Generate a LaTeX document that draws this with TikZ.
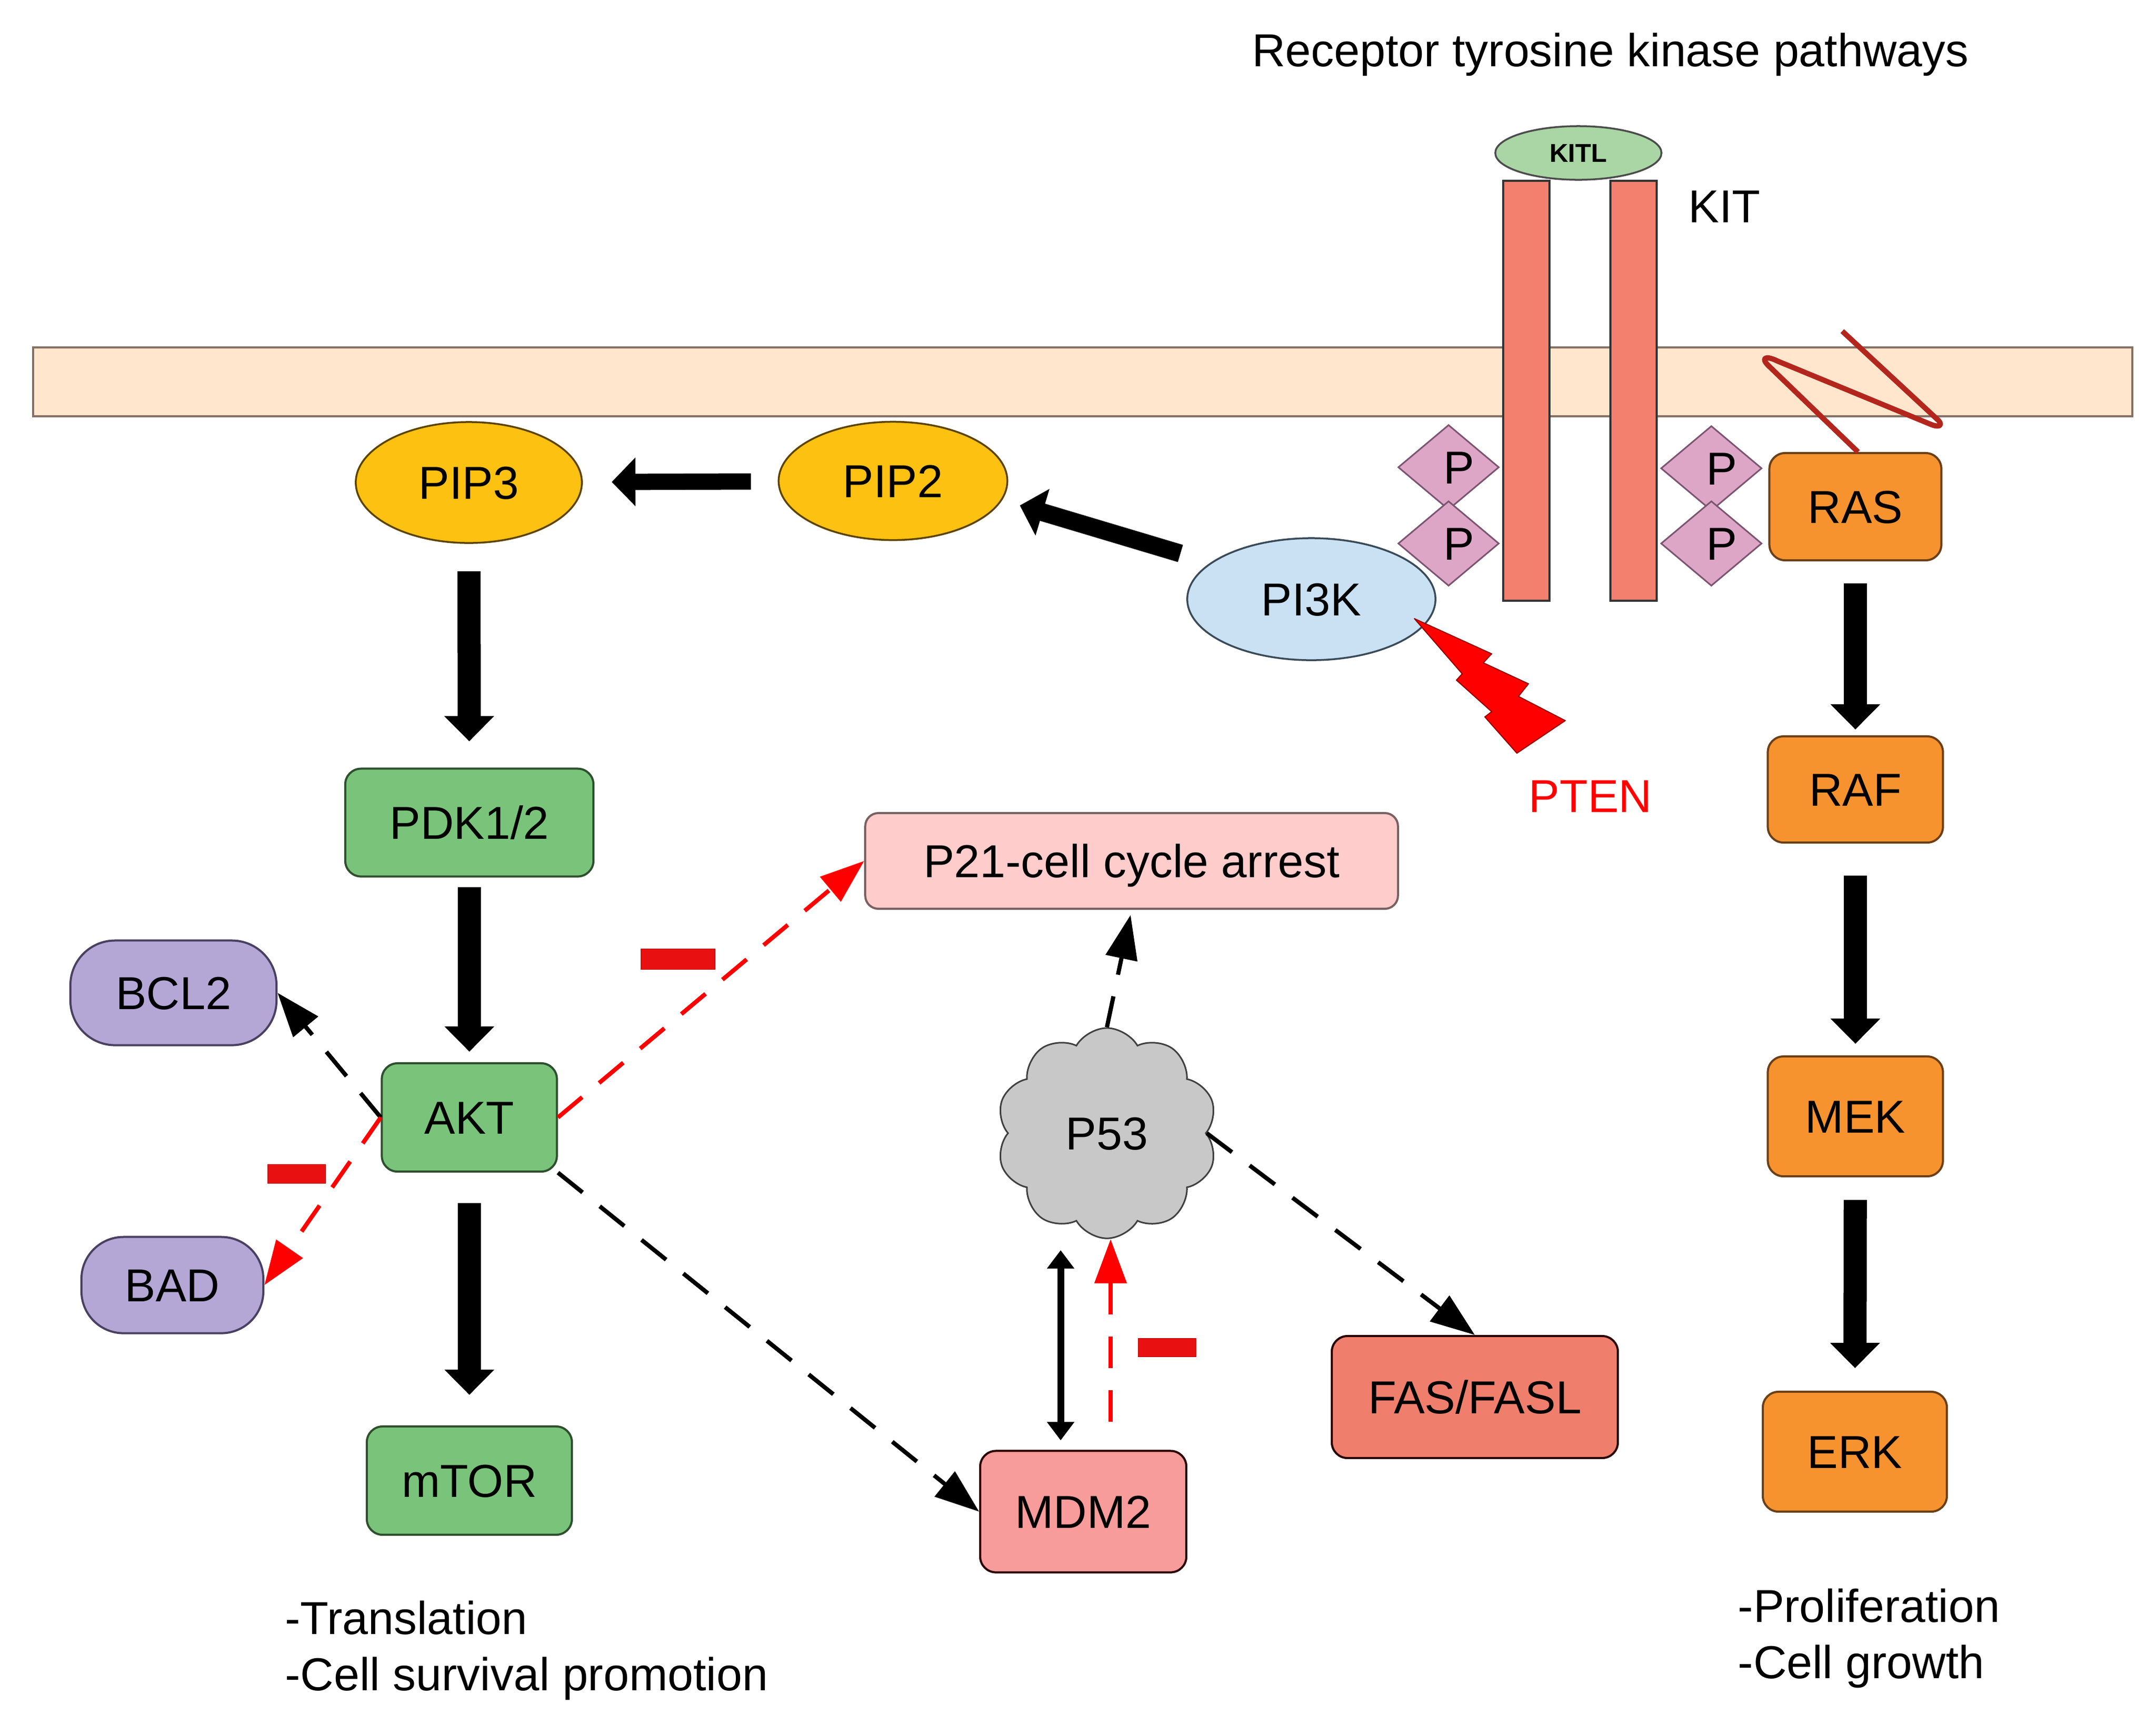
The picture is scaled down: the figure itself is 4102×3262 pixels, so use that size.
\documentclass[tikz,border=0pt]{standalone}
\usepackage{fontspec}
\setmainfont{Liberation Sans}
\usetikzlibrary{shapes.geometric,shapes.symbols,arrows.meta,calc}
\definecolor{memfill}{HTML}{FFE6CC}
\definecolor{memdraw}{HTML}{857065}
\definecolor{kitfill}{HTML}{F3806E}
\definecolor{kitlfill}{HTML}{A9D6A4}
\definecolor{pfill}{HTML}{DDA6C7}
\definecolor{pdraw}{HTML}{7B5570}
\definecolor{rasfill}{HTML}{F7932F}
\definecolor{rasdraw}{HTML}{6A4018}
\definecolor{pipfill}{HTML}{FDC112}
\definecolor{pipdraw}{HTML}{5C4400}
\definecolor{pikfill}{HTML}{C9E1F3}
\definecolor{pikdraw}{HTML}{3A4A58}
\definecolor{grnfill}{HTML}{79C47A}
\definecolor{grndraw}{HTML}{2F4F2F}
\definecolor{purfill}{HTML}{B4A7D6}
\definecolor{purdraw}{HTML}{4A4060}
\definecolor{ptwofill}{HTML}{FFCCCC}
\definecolor{ptwodraw}{HTML}{7A6060}
\definecolor{pfivefill}{HTML}{C8C8C8}
\definecolor{mdmfill}{HTML}{F89B9B}
\definecolor{fasfill}{HTML}{EF7F6C}
\definecolor{redbar}{HTML}{E81010}
\definecolor{curl}{HTML}{B3261E}
\tikzset{
  lbl/.style={font=\fontsize{25}{30}\selectfont, text height=17.9pt, text depth=0pt, inner sep=0pt},
  txt/.style={font=\fontsize{25}{30}\selectfont, inner sep=0pt},
  boxnode/.style={lbl, rectangle, rounded corners=0.3cm, line width=0.04cm},
  ellnode/.style={lbl, ellipse, line width=0.035cm},
  pnode/.style={lbl, diamond, fill=pfill, draw=pdraw, line width=0.03cm, minimum width=1.92cm, minimum height=1.45cm},
  fatarrow/.style={line width=0.44cm, -{Triangle[length=0.48cm,width=0.92cm]}},
  medarrow/.style={line width=0.31cm, -{Triangle[length=0.45cm,width=0.9cm]}},
  blackdash/.style={line width=0.08cm, dash pattern=on 0.6cm off 0.42cm, -{Triangle[length=0.84cm,width=0.6cm]}},
  reddash/.style={blackdash, red},
  minusbar/.style={fill=redbar, draw=red!70!black, line width=0.01cm},
}
\begin{document}
\begin{tikzpicture}[x=0.01cm, y=-0.01cm]
\useasboundingbox (0,0) rectangle (4102,3262);
% membrane
\draw[fill=memfill, draw=memdraw, line width=0.04cm] (63,661) rectangle (4057,792);
% KIT receptor
\draw[fill=kitfill, draw=black!80, line width=0.04cm] (2860,344) rectangle (2948,1143);
\draw[fill=kitfill, draw=black!80, line width=0.04cm] (3064,344) rectangle (3152,1143);
\node[ellnode, fill=kitlfill, draw=black!70, minimum width=3.16cm, minimum height=1.02cm,
      font=\bfseries\fontsize{14}{16}\selectfont, text height=10pt] (KITL) at (3003,291) {KITL};
\node[txt, anchor=base west] (KIT) at (3212,423) {KIT};
% phospho sites
\node[pnode] (P1) at (2756,889) {\hspace{0.4cm}P};
\node[pnode] (P2) at (2756,1034) {\hspace{0.4cm}P};
\node[pnode] (P3) at (3256,891) {\hspace{0.4cm}P};
\node[pnode] (P4) at (3256,1034) {\hspace{0.4cm}P};
% title
\node[txt, anchor=base] (title) at (3064,126) {Receptor tyrosine kinase pathways};
% RAS pathway
\node[boxnode, fill=rasfill, draw=rasdraw, minimum width=3.27cm, minimum height=2.04cm] (RAS) at (3530,964) {RAS};
\node[boxnode, fill=rasfill, draw=rasdraw, minimum width=3.33cm, minimum height=2.02cm] (RAF) at (3530,1502) {RAF};
\node[boxnode, fill=rasfill, draw=rasdraw, minimum width=3.33cm, minimum height=2.28cm] (MEK) at (3530,2124) {MEK};
\node[boxnode, fill=rasfill, draw=rasdraw, minimum width=3.50cm, minimum height=2.28cm] (ERK) at (3529,2762) {ERK};
\draw[curl, line width=0.1cm, line join=round] ([xshift=0.05cm]RAS.north) -- (3366,697)
  .. controls (3348,680) and (3360,676) .. (3382,687) -- (3675,808)
  .. controls (3694,815) and (3696,806) .. (3685,797) -- (3505,630);
\draw[fatarrow, shorten <=0.42cm, shorten >=0.11cm] (RAS) -- (RAF);
\draw[fatarrow, shorten <=0.61cm, shorten >=0.22cm] (RAF) -- (MEK);
\draw[fatarrow, shorten <=0.43cm, shorten >=0.43cm] (MEK) -- (ERK);
\node[txt, anchor=base west] (prolif) at (3306,3086) {-Proliferation};
\node[txt, anchor=base west] (growth) at (3306,3193) {-Cell growth};
% PI3K pathway
\node[ellnode, fill=pipfill, draw=pipdraw, minimum width=4.30cm, minimum height=2.30cm] (PIP3) at (892,918) {PIP3};
\node[ellnode, fill=pipfill, draw=pipdraw, minimum width=4.35cm, minimum height=2.25cm] (PIP2) at (1699,915) {PIP2};
\node[ellnode, fill=pikfill, draw=pikdraw, minimum width=4.72cm, minimum height=2.32cm] (PI3K) at (2495,1140) {PI3K};
\draw[medarrow, shorten <=0.51cm, shorten >=0.55cm] (PIP2) -- (PIP3);
\draw[medarrow, line width=0.34cm, shorten <=0.6cm, shorten >=0.35cm] (PI3K.160) -- (PIP2.350);
% PTEN
\draw[fill=red, draw=red!60!black, line width=0.02cm, line join=round]
  (2691,1177) -- (2838,1244) -- (2822,1261) -- (2908,1301) -- (2889,1325) -- (2978,1371)
  -- (2886,1433) -- (2825,1364) -- (2838,1354) -- (2771,1294) -- (2782,1282) -- cycle;
\node[txt, anchor=base west, text=red] (PTEN) at (2908,1545) {PTEN};
% AKT branch
\node[boxnode, fill=grnfill, draw=grndraw, minimum width=4.72cm, minimum height=2.05cm] (PDK) at (893,1565) {PDK1/2};
\node[boxnode, fill=grnfill, draw=grndraw, minimum width=3.33cm, minimum height=2.06cm] (AKT) at (893,2126) {AKT};
\node[boxnode, fill=grnfill, draw=grndraw, minimum width=3.90cm, minimum height=2.06cm] (mTOR) at (893,2817) {mTOR};
\node[boxnode, rounded corners=0.85cm, fill=purfill, draw=purdraw, minimum width=3.92cm, minimum height=1.99cm] (BCL2) at (330,1889) {BCL2};
\node[boxnode, rounded corners=0.8cm, fill=purfill, draw=purdraw, minimum width=3.46cm, minimum height=1.83cm] (BAD) at (328,2445) {BAD};
\draw[fatarrow, shorten <=0.52cm, shorten >=0.50cm] (PIP3) -- (PDK);
\draw[fatarrow, shorten <=0.18cm, shorten >=0.20cm] (PDK) -- (AKT);
\draw[fatarrow, shorten <=0.58cm, shorten >=0.58cm] (AKT) -- (mTOR);
\node[txt, anchor=base west] (transl) at (542,3109) {-Translation};
\node[txt, anchor=base west] (surv) at (542,3216) {-Cell survival promotion};
% P53 branch
\node[boxnode, rounded corners=0.25cm, fill=ptwofill, draw=ptwodraw, minimum width=10.13cm, minimum height=1.82cm] (P21) at (2153,1638) {P21-cell cycle arrest};
\node[lbl, cloud, cloud puffs=10, cloud puff arc=120, aspect=1, fill=pfivefill, draw=black!75, line width=0.03cm,
      minimum width=4.2cm, minimum height=4.0cm] (P53) at (2106,2156) {P53};
\node[boxnode, fill=mdmfill, draw=black!60!red!40!black, minimum width=3.92cm, minimum height=2.31cm] (MDM2) at (2061,2876) {MDM2};
\node[boxnode, fill=fasfill, draw=black!60!red!40!black, minimum width=5.44cm, minimum height=2.32cm] (FAS) at (2806,2658) {FAS/FASL};
% dashed interactions
\draw[blackdash] (AKT.west) -- (BCL2.east);
\draw[reddash] (AKT.west) -- (BAD.east);
\draw[reddash] (AKT.east) -- (P21.west);
\draw[blackdash] (AKT.south east) -- (MDM2.west);
\draw[blackdash, shorten >=0.1cm] (P53.north) -- (P21.south);
\draw[blackdash] (P53.east) -- (FAS.north);
\draw[reddash] ($(MDM2.north)+(52,-53)$) -- ($(P53.south)+(7,0)$);
\draw[line width=0.13cm, {Triangle[length=0.35cm,width=0.5cm]}-{Triangle[length=0.35cm,width=0.5cm]}]
  ($(MDM2.north)+(-43,-18)$) -- ($(P53.south -| MDM2.north)+(-43,21)$);
% inhibition marks
\draw[minusbar] (509,2215) rectangle (619,2251);
\draw[minusbar] (1219,1805) rectangle (1360,1844);
\draw[minusbar] (2165,2546) rectangle (2275,2581);
\end{tikzpicture}
\end{document}
